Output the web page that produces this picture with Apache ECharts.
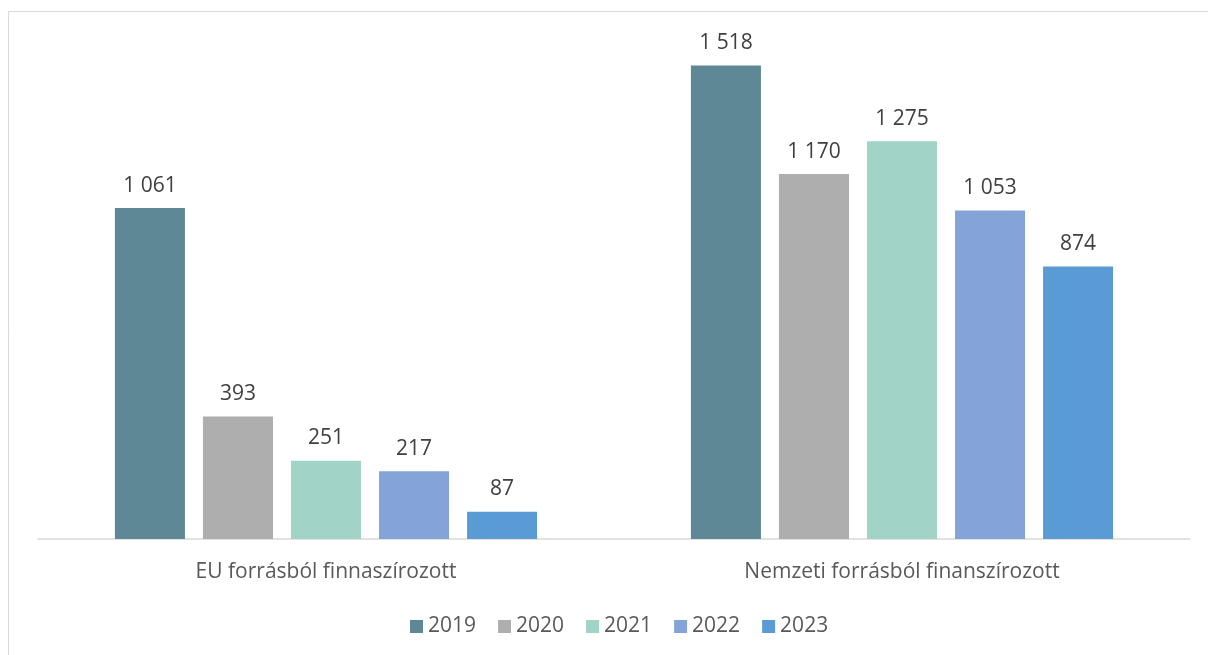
<!DOCTYPE html>
<html><head><meta charset="utf-8">
<script src="https://cdn.jsdelivr.net/npm/echarts@6/dist/echarts.min.js"></script>
<style>html,body{margin:0;padding:0;background:#fff}#c{width:1208px;height:655px}</style>
</head><body><div id="c"></div>
<script>
const categories = ['EU forrásból finnaszírozott', 'Nemzeti forrásból finanszírozott'];
const years = ['2019', '2020', '2021', '2022', '2023'];
const v2019 = [1061, 1518];
const v2020 = [393, 1170];
const v2021 = [251, 1275];
const v2022 = [217, 1053];
const v2023 = [87, 874];
const colors = ['#5F8896', '#ADAEAD', '#A1D4C7', '#84A4D8', '#5B9BD5'];
const values = [v2019, v2020, v2021, v2022, v2023];
const FONT = 'Open Sans';
const fmt = n => String(n).replace(/\B(?=(\d{3})+(?!\d))/g, ' ');
const chart = echarts.init(document.getElementById('c'));
chart.setOption({
  animation: false,
  textStyle: { fontFamily: FONT },
  graphic: [{ type: 'rect', shape: { x: 8.5, y: 11.5, width: 1300, height: 1000 }, style: { fill: 'none', stroke: '#d9d9d9', lineWidth: 1 }, z: -1 }],
  grid: { left: 38, right: 18, top: 40, bottom: 116, containLabel: false },
  legend: {
    data: years, bottom: 13, left: 405, itemWidth: 13, itemHeight: 13, itemGap: 22,
    icon: 'rect', textStyle: { fontSize: 21, color: '#595959', fontFamily: FONT }
  },
  xAxis: {
    type: 'category', data: categories,
    axisLine: { lineStyle: { color: '#d9d9d9', width: 1.5 } }, axisTick: { show: false },
    axisLabel: { fontSize: 21, color: '#595959', margin: 23, fontFamily: FONT }
  },
  yAxis: { type: 'value', min: 0, max: 1600, show: false, splitLine: { show: false } },
  series: years.map((y, i) => ({
    name: y, type: 'bar', data: values[i], barGap: '25.7%', barCategoryGap: '26.7%',
    itemStyle: { color: colors[i] },
    label: { show: true, position: 'top', distance: 12, fontSize: 21, color: '#404040', fontFamily: FONT, formatter: p => fmt(p.value) }
  }))
});
</script></body></html>
